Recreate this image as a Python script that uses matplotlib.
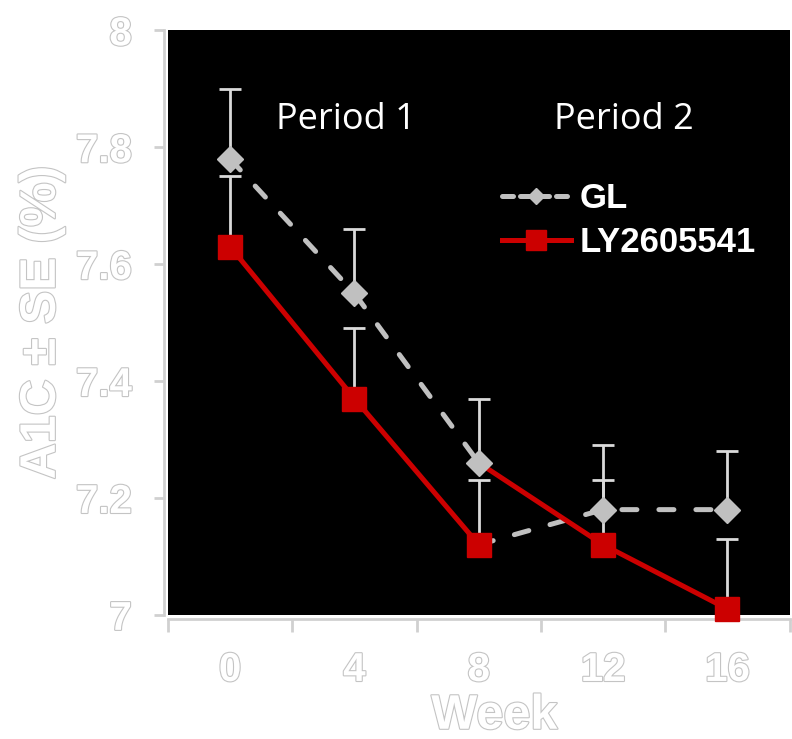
import matplotlib
matplotlib.use("Agg")
import matplotlib.pyplot as plt
import matplotlib.patheffects as pe
import numpy as np

# A1C by week, crossover design (Period 1: weeks 0-8, Period 2: weeks 8-16)
weeks = [0, 4, 8, 12, 16]
gl_mean = [7.78, 7.55, 7.26, 7.18, 7.18]
ly_mean = [7.63, 7.37, 7.12, 7.12, 7.01]
gl_se = [0.12, 0.11, 0.11, 0.11, 0.10]
ly_se = [0.12, 0.12, 0.11, 0.11, 0.12]
# Period 2 starting values (arms switch treatment at week 8)
gl_p2_start = 7.12
ly_p2_start = 7.26

y_ticks = [7, 7.2, 7.4, 7.6, 7.8, 8]
y_tick_labels = ["7", "7.2", "7.4", "7.6", "7.8", "8"]
legend_labels = ["GL", "LY2605541"]
period_labels = ["Period 1", "Period 2"]

gray = "#c0c0c0"
red = "#cc0000"
axis_gray = "#d0d0d0"
outline = [pe.Stroke(linewidth=1.6, foreground="#c4c4c4"), pe.Normal()]

fig = plt.figure(figsize=(7.92, 7.39), dpi=100)
fig.patch.set_facecolor("white")
ax = fig.add_axes([0.212, 0.168, 0.785, 0.791])
ax.set_facecolor("black")

# Upward-only error bars
for mean, se in [(gl_mean, gl_se), (ly_mean, ly_se)]:
    ax.errorbar(weeks, mean, yerr=[np.zeros(len(se)), se], fmt="none",
                ecolor="#dadada", elinewidth=2, capsize=8, capthick=2, zorder=2)

dash = (3, 4.4)
# Period 1 lines
ax.plot(weeks[:3], gl_mean[:3], color=gray, lw=3.6, dashes=dash,
        dash_capstyle="round", zorder=3)
ax.plot(weeks[:3], ly_mean[:3], color=red, lw=3.6, zorder=3)
# Period 2 lines
ax.plot(weeks[2:], [gl_p2_start] + gl_mean[3:], color=gray, lw=3.6, dashes=dash,
        dash_capstyle="round", zorder=3)
ax.plot(weeks[2:], [ly_p2_start] + ly_mean[3:], color=red, lw=3.6, zorder=3)

# Markers
ax.plot(weeks, gl_mean, ls="none", marker="D", ms=13.5, color=gray, zorder=4,
        clip_on=False)
ax.plot(weeks, ly_mean, ls="none", marker="s", ms=17, color=red, zorder=5,
        clip_on=False)

# Legend proxies
h_gl, = ax.plot([], [], color=gray, lw=3.6, dashes=(2.2, 1.4), marker="D", ms=8.5,
                dash_capstyle="round")
h_ly, = ax.plot([], [], color=red, lw=3.6, marker="s", ms=14.5)
leg = ax.legend([h_gl, h_ly], legend_labels, loc="upper left",
                bbox_to_anchor=(0.537, 0.740), frameon=False, handlelength=2.0,
                handletextpad=0.25, labelspacing=0.3, borderpad=0,
                borderaxespad=0,
                prop={"family": "Liberation Sans", "weight": "bold", "size": 25})
for t in leg.get_texts():
    t.set_color("white")

# Period annotations
ax.text(3.72, 7.846, period_labels[0], color="white", fontsize=26,
        family="Open Sans", ha="center", va="center")
ax.text(12.66, 7.846, period_labels[1], color="white", fontsize=26,
        family="Open Sans", ha="center", va="center")

ax.set_xlim(-2, 18)
ax.set_ylim(7, 8)

# Axes styling
for s in ["top", "right"]:
    ax.spines[s].set_visible(False)
for s in ["left", "bottom"]:
    ax.spines[s].set_color(axis_gray)
    ax.spines[s].set_linewidth(2)
    ax.spines[s].set_position(("outward", 3))

ax.set_xticks(weeks)
ax.set_xticklabels([str(w) for w in weeks])
ax.set_xticks(np.arange(-2, 19, 4), minor=True)
ax.tick_params(axis="x", which="major", length=0, pad=23)
ax.tick_params(axis="x", which="minor", length=9, width=2, color=axis_gray)
ax.set_yticks(y_ticks)
ax.set_yticklabels(y_tick_labels)
ax.tick_params(axis="y", length=7, width=2, color=axis_gray, pad=16)

for lbl in ax.get_xticklabels() + ax.get_yticklabels():
    lbl.set_family("Liberation Sans")
    lbl.set_fontweight("bold")
    lbl.set_fontsize(29)
    lbl.set_color("white")
    lbl.set_path_effects(outline)

ax.set_xlabel("Week", family="Liberation Sans", fontweight="bold", fontsize=35,
              color="white", labelpad=0, path_effects=outline)
ax.xaxis.set_label_coords(0.525, -0.135)
ax.xaxis.label.set_va("top")
ax.set_ylabel("A1C ± SE (%)", family="Liberation Sans", fontweight="bold",
              fontsize=36, color="white", labelpad=8, path_effects=outline)

fig.savefig("out.png", dpi=100, facecolor="white")
